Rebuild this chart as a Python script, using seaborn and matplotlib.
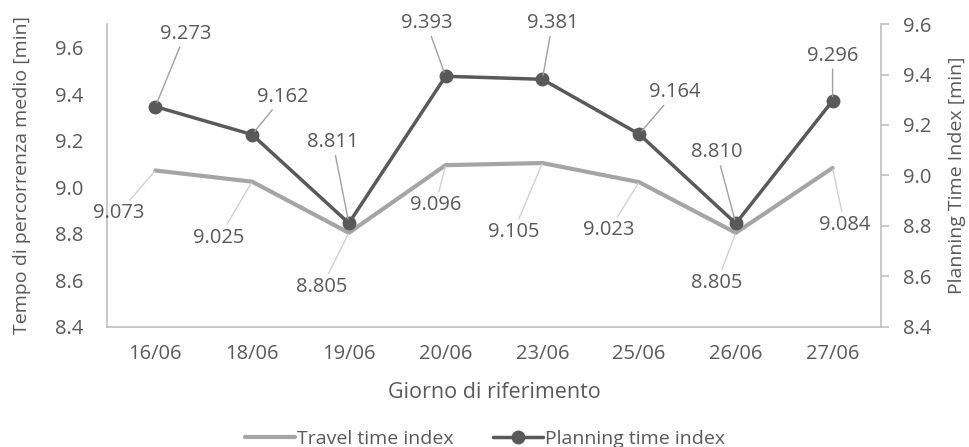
import matplotlib
matplotlib.use("Agg")
import matplotlib.pyplot as plt
import seaborn as sns
import pandas as pd

# Data
days = ["16/06", "18/06", "19/06", "20/06", "23/06", "25/06", "26/06", "27/06"]
travel_time = [9.073, 9.025, 8.805, 9.096, 9.105, 9.023, 8.805, 9.084]
planning_time = [9.273, 9.162, 8.811, 9.393, 9.381, 9.164, 8.810, 9.296]

# label offsets (pixels) for the data labels, as placed in the original
travel_offsets = [(-37, -43), (-33, -56), (-27, -54), (-10, -40), (-29, -69), (-30, -48), (-19, -50), (12, -57)]
planning_offsets = [(30, 73), (31, 38), (-16, 81), (-19, 53), (10, 56), (36, 42), (-19, 71), (0, 45)]

df = pd.DataFrame({"Giorno": days, "Travel": travel_time, "Planning": planning_time})

sns.set_style("white")
plt.rcParams["font.family"] = ["Open Sans", "DejaVu Sans"]
txt = "#595959"
axis_col = "#BFBFBF"
light = "#A5A5A5"
dark = "#595959"

fig = plt.figure(figsize=(9.7, 4.47), dpi=100)
ax = fig.add_axes([0.1103, 0.2685, 0.7979, 0.6778])
ax2 = ax.twinx()

sns.lineplot(data=df, x="Giorno", y="Travel", ax=ax, color=light, linewidth=3.0,
             sort=False, label="Travel time index", legend=False)
sns.lineplot(data=df, x="Giorno", y="Planning", ax=ax2, color=dark, linewidth=2.5,
             marker="o", markersize=10, markeredgewidth=0, sort=False,
             label="Planning time index", legend=False)

ticks = [8.4, 8.6, 8.8, 9.0, 9.2, 9.4, 9.6]
ax.set_xlim(-0.5, len(days) - 0.5)
ax.set_ylim(8.4, 9.703)
ax.set_yticks(ticks)
ax.set_yticklabels([f"{v:.1f}" for v in ticks])
ax2.set_ylim(8.4, 9.6)
ax2.set_yticks(ticks)
ax2.set_yticklabels([f"{v:.1f}" for v in ticks])

for a in (ax, ax2):
    a.spines["top"].set_visible(False)
    for s in ("left", "right", "bottom"):
        a.spines[s].set_color(axis_col)
        a.spines[s].set_linewidth(1.2)
ax.spines["right"].set_visible(False)
ax2.spines["left"].set_visible(False)
ax2.spines["bottom"].set_visible(False)

ax.tick_params(axis="y", length=0, labelsize=14.5, labelcolor=txt, pad=17)
ax.tick_params(axis="x", length=0, labelsize=14.5, labelcolor=txt, pad=12)
ax2.tick_params(axis="y", length=6, color=axis_col, width=1.2, labelsize=14.5,
                labelcolor=txt, pad=10)

ax.set_xlabel("Giorno di riferimento", fontsize=15.5, color=txt, labelpad=13)
ax.set_ylabel("Tempo di percorrenza medio [min]", fontsize=14, color=txt, labelpad=17)
ax2.set_ylabel("Planning Time Index [min]", fontsize=14, color=txt, labelpad=12)

# data labels with leader lines
for i, v in enumerate(travel_time):
    ax.annotate(f"{v:.3f}", xy=(i, v), xytext=travel_offsets[i], textcoords="offset pixels",
                ha="center", va="center", fontsize=14.5, color=txt,
                arrowprops=dict(arrowstyle="-", color="#D0D0D0", lw=1, shrinkA=0, shrinkB=1))
for i, v in enumerate(planning_time):
    ax2.annotate(f"{v:.3f}", xy=(i, v), xytext=planning_offsets[i], textcoords="offset pixels",
                 ha="center", va="center", fontsize=14.5, color=txt,
                 arrowprops=dict(arrowstyle="-", color="#A0A0A0", lw=1, shrinkA=0, shrinkB=3))

h1, l1 = ax.get_legend_handles_labels()
h2, l2 = ax2.get_legend_handles_labels()
fig.legend(h1 + h2, l1 + l2, loc="center", bbox_to_anchor=(0.5, 0.018), ncol=2,
           frameon=False, fontsize=14, labelcolor=txt, handlelength=2.6,
           handletextpad=0.1, columnspacing=2.0)

fig.savefig("out.png", dpi=100)
